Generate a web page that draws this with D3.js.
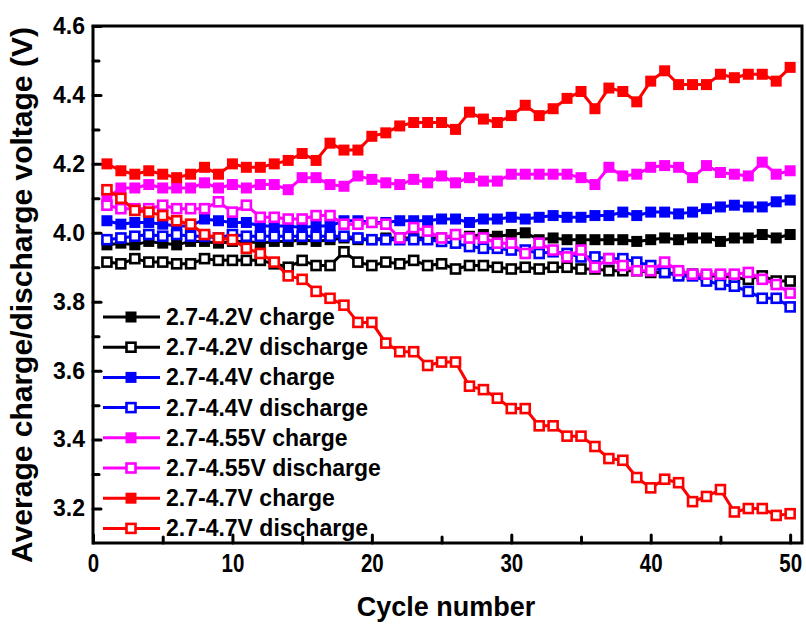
<!DOCTYPE html>
<html>
<head>
<meta charset="utf-8">
<script src="https://cdn.jsdelivr.net/npm/d3@7"></script>
<style>
  html, body { margin: 0; padding: 0; background: #fff; }
  svg { display: block; }
  text { font-family: "Liberation Sans", Arial, sans-serif; font-weight: bold; fill: #000; }
</style>
</head>
<body>
<svg id="chart" width="806" height="624"></svg>
<script>
// Cycle index 1..50
const cycles = d3.range(1, 51);

// Average voltages (V) per cycle for each voltage window
const charge42 = [3.965,3.97,3.965,3.975,3.97,3.965,3.975,3.975,3.97,3.975,3.975,3.97,3.975,3.975,3.98,3.975,3.98,3.985,3.98,3.98,3.985,3.985,3.985,3.985,3.985,3.99,3.99,3.995,3.99,3.995,4.0,3.98,3.985,3.98,3.98,3.98,3.98,3.98,3.975,3.98,3.985,3.98,3.985,3.985,3.975,3.985,3.985,3.995,3.985,3.995];
const discharge42 = [3.915,3.91,3.925,3.915,3.915,3.91,3.91,3.925,3.92,3.92,3.92,3.92,3.91,3.90,3.92,3.905,3.905,3.945,3.915,3.905,3.915,3.91,3.92,3.905,3.91,3.895,3.905,3.905,3.90,3.895,3.90,3.895,3.90,3.90,3.895,3.895,3.89,3.89,3.89,3.885,3.885,3.88,3.88,3.875,3.875,3.87,3.865,3.875,3.86,3.86];
const charge44 = [4.035,4.025,4.03,4.03,4.025,4.02,4.02,4.04,4.035,4.03,4.03,4.02,4.02,4.02,4.015,4.02,4.02,4.035,4.035,4.03,4.03,4.035,4.035,4.035,4.04,4.04,4.03,4.04,4.04,4.045,4.04,4.045,4.05,4.045,4.045,4.05,4.05,4.06,4.05,4.06,4.06,4.055,4.06,4.07,4.075,4.08,4.075,4.075,4.09,4.095];
const discharge44 = [3.98,3.985,3.99,3.995,3.99,3.995,3.99,3.99,3.985,3.995,3.99,3.99,3.99,3.99,3.99,3.99,3.99,3.99,3.985,3.98,3.98,3.98,3.98,3.98,3.975,3.97,3.96,3.955,3.955,3.95,3.95,3.94,3.945,3.94,3.93,3.93,3.925,3.925,3.915,3.905,3.885,3.875,3.875,3.86,3.85,3.845,3.83,3.81,3.81,3.785];
const charge455 = [4.10,4.13,4.13,4.14,4.13,4.13,4.13,4.145,4.13,4.14,4.13,4.14,4.14,4.125,4.16,4.16,4.14,4.135,4.165,4.155,4.145,4.14,4.155,4.145,4.165,4.145,4.16,4.15,4.15,4.17,4.17,4.17,4.17,4.17,4.16,4.14,4.19,4.165,4.17,4.19,4.195,4.19,4.16,4.195,4.175,4.17,4.165,4.205,4.17,4.18];
const discharge455 = [4.08,4.07,4.07,4.07,4.08,4.07,4.07,4.07,4.09,4.06,4.08,4.045,4.045,4.04,4.04,4.05,4.05,4.025,4.025,4.03,4.025,3.985,4.015,4.005,3.985,3.995,3.985,3.985,3.97,3.97,3.94,3.97,3.95,3.93,3.95,3.90,3.925,3.905,3.89,3.89,3.915,3.89,3.88,3.88,3.88,3.88,3.885,3.865,3.85,3.825];
const charge47 = [4.20,4.18,4.17,4.18,4.17,4.16,4.17,4.19,4.17,4.20,4.19,4.19,4.20,4.21,4.23,4.21,4.26,4.24,4.24,4.28,4.29,4.31,4.32,4.32,4.32,4.30,4.35,4.33,4.32,4.34,4.37,4.34,4.36,4.39,4.41,4.36,4.42,4.41,4.38,4.44,4.47,4.43,4.43,4.43,4.46,4.45,4.46,4.46,4.44,4.48];
const discharge47 = [4.125,4.10,4.065,4.06,4.05,4.035,4.025,3.995,3.985,3.98,3.955,3.94,3.915,3.875,3.865,3.83,3.81,3.79,3.74,3.74,3.68,3.655,3.655,3.615,3.625,3.625,3.555,3.545,3.52,3.49,3.49,3.44,3.44,3.41,3.41,3.38,3.345,3.34,3.29,3.26,3.285,3.275,3.22,3.235,3.255,3.19,3.20,3.20,3.18,3.185];

// Series labels and colours, in drawing / legend order
const seriesNames = ["2.7-4.2V charge","2.7-4.2V discharge","2.7-4.4V charge","2.7-4.4V discharge",
                     "2.7-4.55V charge","2.7-4.55V discharge","2.7-4.7V charge","2.7-4.7V discharge"];
const seriesValues = [charge42, discharge42, charge44, discharge44, charge455, discharge455, charge47, discharge47];
const seriesColors = ["#000000","#000000","#0000ff","#0000ff","#ff00ff","#ff00ff","#ff0000","#ff0000"];
const seriesFilled = [true,false,true,false,true,false,true,false];

// Axis ticks
const xTicks = [0,10,20,30,40,50];
const xMinorTicks = [5,15,25,35,45];
const yTicks = [3.2,3.4,3.6,3.8,4.0,4.2,4.4,4.6];
const yMinorTicks = [3.3,3.5,3.7,3.9,4.1,4.3,4.5];

const svg = d3.select("#chart");
const L = 93, R = 802, T = 26, B = 543;

const x = d3.scaleLinear().domain([0, 50.85]).range([L, R]);
const y = d3.scaleLinear().domain([3.1, 4.6]).range([B, T]);

// Axes: inward ticks on left and bottom
function styleAxis(g) {
  g.select(".domain").remove();
  g.selectAll(".tick line").attr("stroke", "#000").attr("stroke-width", 3).attr("stroke-linecap", "round");
}

const xAxis = svg.append("g").attr("transform", `translate(0,${B})`)
  .call(d3.axisBottom(x).tickValues(xTicks).tickSize(-8).tickPadding(24).tickFormat(d3.format("d")));
styleAxis(xAxis);
// tick numerals are set in a tall, slightly condensed face
xAxis.selectAll(".tick text").attr("font-size", 25).attr("dy", "0.2em")
  .attr("font-family", "Liberation Sans, Arial, sans-serif").attr("font-weight", "bold")
  .attr("transform", "scale(0.82,1)");

const xMinor = svg.append("g").attr("transform", `translate(0,${B})`)
  .call(d3.axisBottom(x).tickValues(xMinorTicks).tickSize(-6).tickFormat(""));
styleAxis(xMinor);

const yAxis = svg.append("g").attr("transform", `translate(${L},0)`)
  .call(d3.axisLeft(y).tickValues(yTicks).tickSize(-8).tickPadding(8).tickFormat(d3.format(".1f")));
styleAxis(yAxis);
yAxis.selectAll(".tick text").attr("font-size", 23)
  .attr("font-family", "Liberation Sans, Arial, sans-serif").attr("font-weight", "bold");

const yMinor = svg.append("g").attr("transform", `translate(${L},0)`)
  .call(d3.axisLeft(y).tickValues(yMinorTicks).tickSize(-6).tickFormat(""));
styleAxis(yMinor);

// Plot frame
svg.append("rect").attr("x", L).attr("y", T).attr("width", R - L).attr("height", B - T)
  .attr("fill", "none").attr("stroke", "#000").attr("stroke-width", 3);

// Series: lines with square markers
const line = d3.line().x((d, i) => x(cycles[i])).y(d => y(d));
const plot = svg.append("g");
seriesValues.forEach((vals, k) => {
  const g = plot.append("g");
  g.append("path").datum(vals).attr("d", line)
    .attr("fill", "none").attr("stroke", seriesColors[k]).attr("stroke-width", 3)
    .attr("stroke-linejoin", "round");
  const s = seriesFilled[k] ? 11 : 9;
  g.selectAll("rect").data(vals).join("rect")
    .attr("x", (d, i) => x(cycles[i]) - s / 2)
    .attr("y", d => y(d) - s / 2)
    .attr("width", s).attr("height", s)
    .attr("fill", seriesFilled[k] ? seriesColors[k] : "#fff")
    .attr("stroke", seriesFilled[k] ? "none" : seriesColors[k])
    .attr("stroke-width", seriesFilled[k] ? 0 : 2.6);
});

// Legend
const legend = svg.append("g");
seriesNames.forEach((name, k) => {
  const yy = 317 + k * 30.2;
  const g = legend.append("g");
  g.append("line").attr("x1", 103).attr("x2", 160).attr("y1", yy).attr("y2", yy)
    .attr("stroke", seriesColors[k]).attr("stroke-width", 3);
  const s = seriesFilled[k] ? 11 : 9;
  g.append("rect").attr("x", 131 - s / 2).attr("y", yy - s / 2).attr("width", s).attr("height", s)
    .attr("fill", seriesFilled[k] ? seriesColors[k] : "#fff")
    .attr("stroke", seriesFilled[k] ? "none" : seriesColors[k])
    .attr("stroke-width", seriesFilled[k] ? 0 : 2.6);
  g.append("text").attr("x", 166).attr("y", yy + 8).attr("font-size", 23).text(name);
});

// Axis titles
svg.append("text").attr("x", 446).attr("y", 616).attr("text-anchor", "middle")
  .attr("font-size", 27).text("Cycle number");
svg.append("text").attr("transform", "translate(32,295) rotate(-90)").attr("text-anchor", "middle")
  .attr("font-size", 30).text("Average charge/discharge voltage (V)");
</script>
</body>
</html>
